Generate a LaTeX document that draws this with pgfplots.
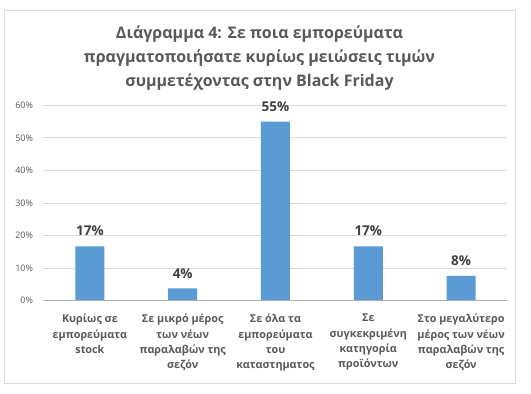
\documentclass[border=0pt]{standalone}
\usepackage{pgfplots}
\pgfplotsset{compat=1.18}
\usepackage{fontspec}
\setmainfont{Open Sans}
\definecolor{barc}{HTML}{5B9BD5}
\definecolor{txt}{HTML}{595959}
\definecolor{gridc}{HTML}{D9D9D9}
\definecolor{lbl}{HTML}{404040}
\begin{document}
\begin{tikzpicture}[x=1pt,y=1pt]
\path[use as bounding box,fill=white] (-43.5,-93.3) rectangle (487.5,300.7);
\draw[gridc,line width=0.8pt] (-39.5,-82.3) rectangle (471.5,290.7);
\node[align=center,font=\bfseries\fontsize{16}{24}\selectfont,text=txt] at (216,242.5)
 {Διάγραμμα 4: Σε ποια εμπορεύματα\\πραγματοποιήσατε κυρίως μειώσεις τιμών\\συμμετέχοντας στην Black Friday};
\begin{axis}[
 scale only axis, width=464pt, height=195.4pt,
 xmin=-0.5, xmax=4.5, ymin=0, ymax=60,
 axis line style={draw=none},
 ytick={0,10,...,60},
 yticklabel={\pgfmathprintnumber{\tick}\%},
 /pgf/number format/assume math mode=true,
 yticklabel style={font=\fontsize{9}{11}\selectfont, text=txt, xshift=-7pt},
 ymajorgrids, xmajorgrids=false, grid style={draw=gridc, line width=0.8pt},
 major tick length=0pt,
 xtick=data,
 xticklabels={{Κυρίως σε\\εμπορεύματα\\stock},{Σε μικρό μέρος\\των νέων\\παραλαβών της\\σεζόν},{Σε όλα τα\\εμπορεύματα\\του\\καταστηματος},{Σε\\συγκεκριμένη\\κατηγορία\\προϊόντων},{Στο μεγαλύτερο\\μέρος των νέων\\παραλαβών της\\σεζόν}},
 xticklabel style={align=center, font=\bfseries\fontsize{10.8}{15.3}\selectfont, text=txt, yshift=-10pt},
 ybar, bar width=29pt,
 nodes near coords={\pgfmathprintnumber[fixed,precision=0]{\pgfplotspointmeta}\%},
 nodes near coords style={font=\bfseries\fontsize{13.5}{16}\selectfont, text=lbl, anchor=south, inner sep=0pt, yshift=10pt, /pgf/number format/assume math mode=true},
]
\addplot[fill=barc, draw=none] coordinates {(0,16.7) (1,3.8) (2,55) (3,16.7) (4,7.6)};
\draw[gridc!80!black, line width=0.8pt] (axis cs:-0.5,0) -- (axis cs:4.5,0);
\end{axis}
\end{tikzpicture}
\end{document}
